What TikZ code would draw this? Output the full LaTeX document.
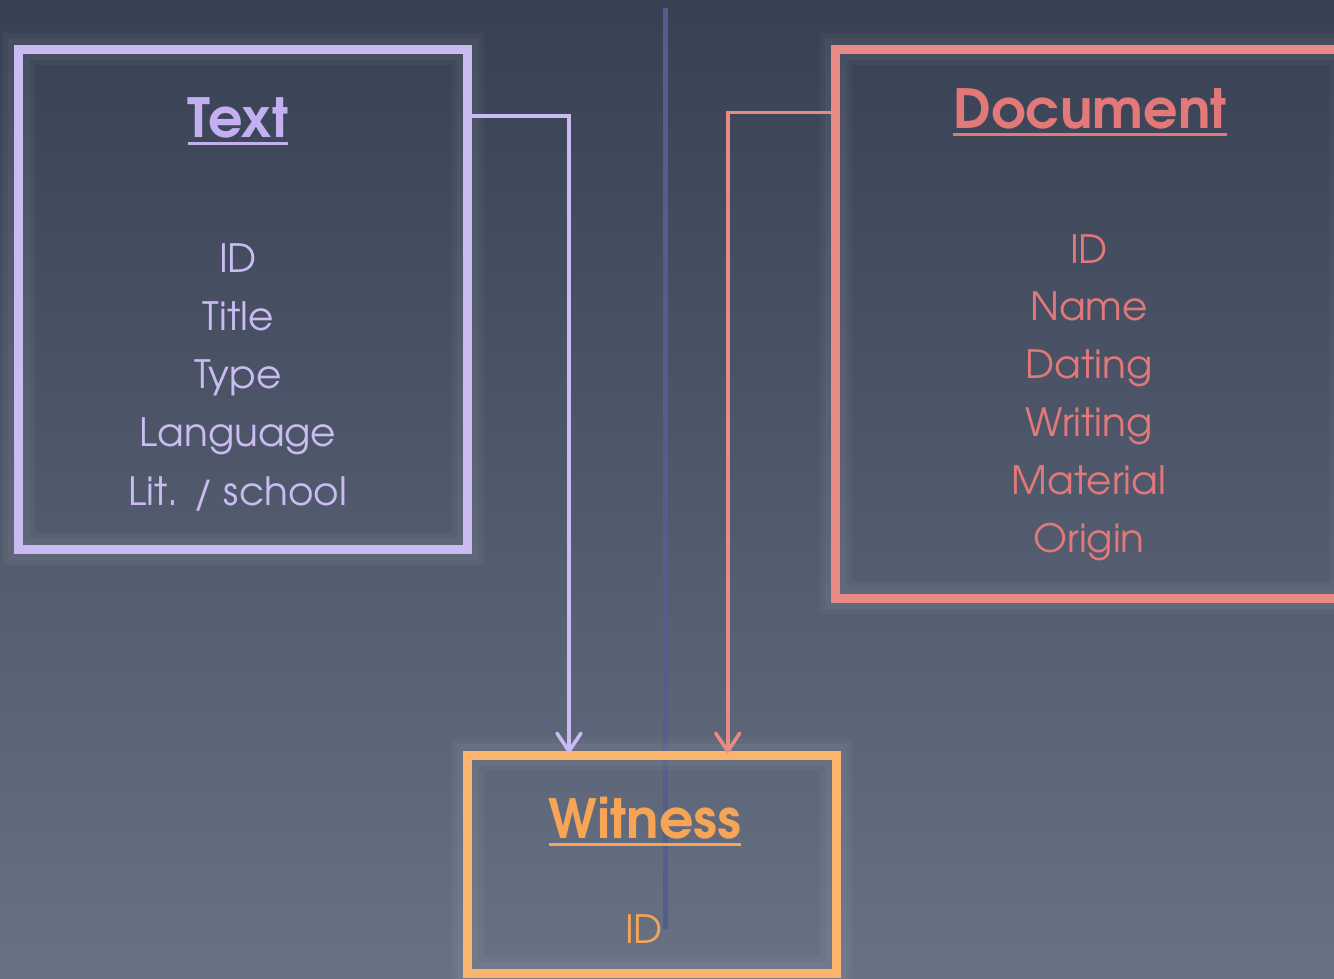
\documentclass[tikz,border=0pt]{standalone}
\usepackage{fontspec}
\setmainfont{TeX Gyre Adventor}
\usetikzlibrary{arrows.meta, positioning}

\definecolor{bgtop}{RGB}{56,64,84}
\definecolor{bgbot}{RGB}{104,114,132}
\definecolor{divcol}{RGB}{80,96,138}
\definecolor{lav}{RGB}{202,188,242}
\definecolor{lavtxt}{RGB}{196,176,240}
\definecolor{sal}{RGB}{232,138,134}
\definecolor{saltxt}{RGB}{226,120,120}
\definecolor{org}{RGB}{251,180,110}
\definecolor{orgtxt}{RGB}{246,164,86}

\tikzset{
    entity/.style={draw=#1, line width=9, outer sep=0, inner sep=0,
        preaction={draw=white, draw opacity=0.035, line width=32,
            preaction={draw=white, draw opacity=0.035, line width=22}}},
    title/.style={text=#1, anchor=base, inner sep=0,
        font=\fontsize{54}{58}\selectfont\bfseries},
    attr/.style={text=#1, anchor=base, inner sep=0,
        font=\fontsize{39}{42}\selectfont},
    link/.style={draw=#1, line width=3.5, shorten >=2,
        -{Straight Barb[length=18pt, width=24pt, round]}}
}

\begin{document}
\begin{tikzpicture}[x=1pt, y=-1pt]
    \useasboundingbox (0,0) rectangle (1334,978);
    \clip (0,0) rectangle (1334,978);

    % Background
    \shade[top color=bgtop, bottom color=bgbot] (0,0) rectangle (1334,978);
    \draw[divcol, line width=5] (665,8) -- (665,929);

    % Boxes
    \node[entity=lav, minimum width=449, minimum height=500] (textbox) at (243,299) {};
    \node[entity=sal, minimum width=510, minimum height=549] (docbox) at (1090.5,323.5) {};
    \node[entity=org, minimum width=368.5, minimum height=218] (witness) at (651.75,864) {};

    % Titles
    \node[title=lavtxt] (ttext) at (238,137) {Text};
    \node[title=saltxt] (tdoc) at (1090,128) {Document};
    \node[title=orgtxt] (twit) at (645,838) {Witness};
    \foreach \t/\c in {ttext/lavtxt, tdoc/saltxt, twit/orgtxt}
        \draw[\c, line width=3] ([yshift=-6]\t.base west) -- ([yshift=-6]\t.base east);

    % Attributes
    \foreach \a [count=\i] in {ID, Title, Type, Language, {Lit. / school}}
        \node[attr=lav] (textattr\i) at (238, 272+58.25*\i-58.25) {\a};
    \foreach \a [count=\i] in {ID, Name, Dating, Writing, Material, Origin}
        \node[attr=saltxt] (docattr\i) at (1089, 263+57.8*\i-57.8) {\a};
    \node[attr=orgtxt] (witattr1) at (644,943) {ID};

    % Links
    \draw[link=lav] ([yshift=-67]textbox.north east) -| ([xshift=-82.75]witness.north);
    \draw[link=sal] ([yshift=-63.5]docbox.north west) -| ([xshift=76]witness.north);
\end{tikzpicture}
\end{document}
